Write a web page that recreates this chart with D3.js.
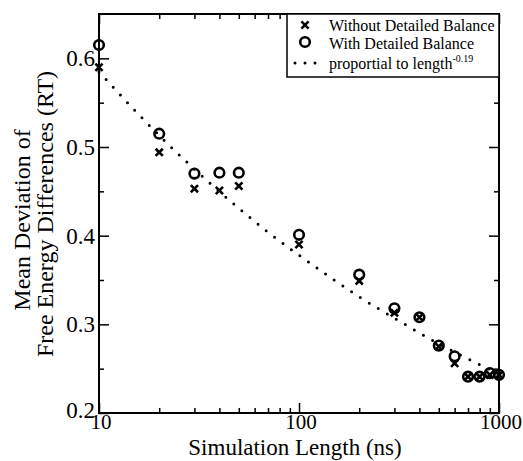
<!DOCTYPE html>
<html><head><meta charset="utf-8">
<script src="https://cdn.jsdelivr.net/npm/d3@7"></script>
<style>body{margin:0;background:#fff}svg{display:block}</style>
</head><body>
<svg id="c" width="523" height="461"></svg>
<script>
const lengths = [10,20,30,40,50,100,200,300,400,500,600,700,800,900,1000];
const withoutDB = [0.590,0.494,0.453,0.451,0.456,0.390,0.349,0.313,0.308,0.275,0.256,0.241,0.241,0.243,0.243];
const withDB = [0.615,0.515,0.470,0.471,0.471,0.401,0.356,0.318,0.308,0.276,0.264,0.241,0.241,0.245,0.243];
const fitLengths = [10,15,20,30,50,70,100,150,200,300,500,700,1000];
const fitValues = [0.585,0.542,0.513,0.475,0.431,0.404,0.378,0.350,0.331,0.307,0.278,0.261,0.244];
const xTickLabels = [10,100,1000];
const yTickLabels = [0.2,0.3,0.4,0.5,0.6];

const L=99,R=499,T=14,B=413;
const svg=d3.select("#c");
const x=d3.scaleLog().domain([10,1000]).range([L,R]);
const y=d3.scaleLinear().domain([0.2,0.65]).range([B,T]);

const minorX=[];
for(const d of [10,100]) for(let k=2;k<=9;k++) minorX.push(d*k);
const minorY=[0.25,0.35,0.45,0.55];

const gB=svg.append("g").attr("transform",`translate(0,${B})`);
gB.call(d3.axisTop(x).tickValues(xTickLabels).tickSize(10).tickFormat(""));
gB.append("g").call(d3.axisTop(x).tickValues(minorX).tickSize(5).tickFormat(""));
const gT=svg.append("g").attr("transform",`translate(0,${T})`);
gT.call(d3.axisBottom(x).tickValues(xTickLabels).tickSize(10).tickFormat(""));
gT.append("g").call(d3.axisBottom(x).tickValues(minorX).tickSize(5).tickFormat(""));
const gL=svg.append("g").attr("transform",`translate(${L},0)`);
gL.call(d3.axisRight(y).tickValues(yTickLabels).tickSize(10).tickFormat(""));
gL.append("g").call(d3.axisRight(y).tickValues(minorY).tickSize(5).tickFormat(""));
const gR=svg.append("g").attr("transform",`translate(${R},0)`);
gR.call(d3.axisLeft(y).tickValues(yTickLabels).tickSize(10).tickFormat(""));
gR.append("g").call(d3.axisLeft(y).tickValues(minorY).tickSize(5).tickFormat(""));
svg.selectAll(".domain").remove();
svg.selectAll(".tick line").attr("stroke","#000").attr("stroke-width",1.5);

svg.append("rect").attr("x",L).attr("y",T).attr("width",R-L).attr("height",B-T)
  .attr("fill","none").attr("stroke","#000").attr("stroke-width",2);

const txt=(sel,size)=>sel.style("font-family",'"Liberation Serif"').style("font-size",size+"px").attr("fill","#000");

svg.append("g").selectAll("text").data(xTickLabels).join("text").call(txt,21)
  .attr("x",d=>x(d)+2).attr("y",B+16).attr("text-anchor","middle").text(d=>d);
svg.append("g").selectAll("text").data(yTickLabels).join("text").call(txt,23)
  .attr("x",L-4).attr("y",d=>y(d)+(d===0.2?5:8)).attr("text-anchor","end").text(d=>d.toFixed(1));

svg.append("text").call(txt,23).attr("x",295).attr("y",455).attr("text-anchor","middle")
  .text("Simulation Length (ns)");
const yt=svg.append("g").attr("transform","translate(0,214) rotate(-90)");
yt.append("text").call(txt,24).attr("x",-6).attr("y",30).attr("text-anchor","middle").text("Mean Deviation of");
yt.append("text").call(txt,24).attr("x",0).attr("y",53).attr("text-anchor","middle").text("Free Energy Differences (RT)");

const fitPts=fitLengths.map((d,i)=>[d,fitValues[i]]);
svg.append("path").attr("d",d3.line().x(d=>x(d[0])).y(d=>y(d[1])).curve(d3.curveMonotoneX)(fitPts))
  .attr("fill","none").attr("stroke","#000").attr("stroke-width",3)
  .attr("stroke-linecap","round").attr("stroke-dasharray","0 10.5");

const crossPath=(s)=>`M${-s},${-s}L${s},${s}M${-s},${s}L${s},${-s}`;
svg.append("g").selectAll("circle").data(lengths).join("circle")
  .attr("cx",d=>x(d)).attr("cy",(d,i)=>y(withDB[i])).attr("r",4.8)
  .attr("fill","none").attr("stroke","#000").attr("stroke-width",2.6);
svg.append("g").selectAll("path").data(lengths).join("path")
  .attr("transform",(d,i)=>`translate(${x(d)},${y(withoutDB[i])})`)
  .attr("d",crossPath(3.6)).attr("stroke","#000").attr("stroke-width",2.6).attr("fill","none");

const lg=svg.append("g");
lg.append("rect").attr("x",287).attr("y",T).attr("width",R-287).attr("height",63)
  .attr("fill","#fff").attr("stroke","#000").attr("stroke-width",1.5);
lg.append("path").attr("transform","translate(305,25)").attr("d",crossPath(3.6))
  .attr("stroke","#000").attr("stroke-width",2.6);
lg.append("circle").attr("cx",305).attr("cy",42).attr("r",4.8).attr("fill","none")
  .attr("stroke","#000").attr("stroke-width",2.6);
lg.append("path").attr("d","M295,63L316,63").attr("stroke","#000").attr("stroke-width",3)
  .attr("stroke-linecap","round").attr("stroke-dasharray","0 10");
lg.append("text").call(txt,16).attr("x",329).attr("y",31).text("Without Detailed Balance");
lg.append("text").call(txt,16).attr("x",329).attr("y",49).text("With Detailed Balance");
const t3=lg.append("text").call(txt,16).attr("x",329).attr("y",69);
t3.append("tspan").text("proportial to length");
t3.append("tspan").attr("dy",-7).style("font-size","10px").text("-0.19");
</script>
</body></html>
